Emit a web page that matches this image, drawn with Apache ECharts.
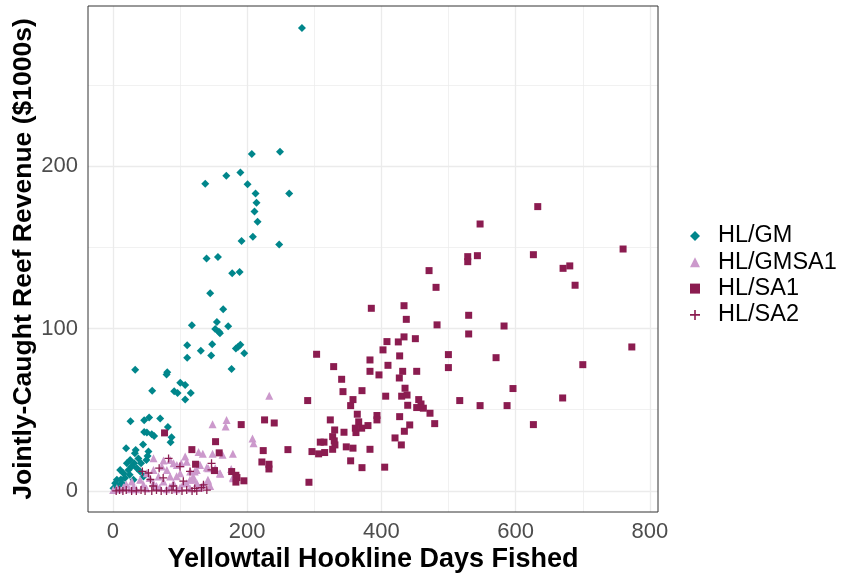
<!DOCTYPE html>
<html><head><meta charset="utf-8">
<script src="https://cdn.jsdelivr.net/npm/echarts@6/dist/echarts.min.js"></script>
<style>html,body{margin:0;padding:0;background:#fff}#c{width:854px;height:577px}</style>
</head><body><div id="c"></div>
<script>
const seriesNames = ['HL/GM', 'HL/GMSA1', 'HL/SA1', 'HL/SA2'];

const gmX = [281.7,207,249,190,169,137.6,200.7,212.6,262.7,214,211,215.6,208.6,191.7,247.8,139.6,156.5,177.8,188.8,145,164.4,117.7,155,171.8,152.5,158,159.5,110.7,131,148,183.3,186.7,190,195.7,146.5,110.7,176.8,33.3,81,80,58.6,100.4,107.8,91.4,96.4,116,107.8,26.3,46.7,54,70.5,82,46.7,50.7,58,61.5,87.5,86,45,19.8,34,32.8,53,51.7,50,25.8,31.8,20.9,10.9,15.9,23.3,35.8,40.7,6,3.5,1,13.4,45.7,30.8,28,38,18,8,25,42,12];
const gmY = [285,207.4,208.8,196,194,189,188.7,183,183,177.4,172,165.7,156.5,153.8,151.6,143,144,134,134.8,121.7,111.8,102,104,101.3,99.7,98,97,89.6,86.3,90.2,87.6,88.8,90,84.7,83.3,82,75,74.5,73,71.6,61.7,66.5,65.2,61.3,60.3,60.3,56.2,42.9,43.5,45.1,44.5,39.4,36.3,35.9,34.9,33.8,33,30,28.5,26.2,25.2,23.2,24.2,21.5,19,19,17,17,12.9,10.9,12.9,14,11.9,6.8,4.7,1.6,4.7,8.8,6.8,15,20,8,3,10,17,7];

const gmsaX = [233,148.5,169.4,168,208,209.6,127.7,134,148.5,163.4,178.8,107.8,101.8,95.4,140,152.5,128.6,125,160,141.6,176.3,178.8,60.6,75.5,85.4,90.4,73,80.5,60.6,50.7,68,85.4,100.3,115.2,120.2,105.3,90.4,75.5,60.6,45.7,30.8,15.9,6,125.2,135.2,0.5,40.7,28.3,110,130,142,159.5,119.7,114.8,110,122,179.3,142,55,65,95,20,10,35,50,70,85,100,115,130,145,25,80,95];
const gmsaY = [58.5,41,43.7,39.6,32.2,29.3,24,22.8,22.8,22.2,22.8,21.1,17,16,14.4,14,16,12.9,10.5,6.8,13.5,8.2,20.1,18.7,19,17,15,12.9,12.9,10.9,8.8,8.8,10.9,11.9,6.8,4.7,4.7,5.7,4.7,3.7,2.6,2.3,1.6,4.7,3.7,0.6,6.8,5.7,18,16,14,10.9,8.8,6.8,4.7,11.9,7.8,5.7,8,3,9,4,1,1,1.5,2,2.5,2,1.5,2,3,1,1,1];

const sa1X = [191.2,226,240.4,153,117.7,158.4,224,260.8,222,232.5,232.5,123.2,151.4,183.3,184.8,183.3,195.2,77,177,471,481.4,385,433.7,437.1,482.9,408.3,425.2,433.7,450.6,402.4,499.8,499.8,303.5,383,427.2,409.8,328.9,383,396.4,431.7,426.7,452.6,340.8,342.8,371.1,406.4,435.2,430.2,438.2,357.7,354.2,439.2,455.6,459,452.6,462.5,472.4,479.4,290.2,393.4,393.4,364.1,323.9,366.2,361.2,370.6,380,362.1,427.2,442.2,434.2,420.3,429.7,344.3,330.4,327.4,329.8,330.8,327.4,309,314.5,347.7,357.7,383,354.2,371.1,404.9,296.6,306.5,315.5,292.1,632.9,547,528.6,528.6,543,626.4,760,670.6,680.6,688.5,530,530,582.7,570.8,773,700,596,516.7,547,587.2,670,626.4];
const sa1Y = [40.8,43.7,41.8,30.3,25.4,23.4,24.8,25.4,17.8,16.4,13.5,16.4,12.5,9.6,8.2,5.4,6.2,35.7,11.9,135.6,125.3,112.4,114,105.6,102.2,91.9,91.7,94.8,93.7,86.8,83.9,75.9,84.1,80.6,83.1,77.3,76.5,73.6,71.4,73.6,69.5,73.6,68.7,61.1,61.7,58.3,63.2,58.3,59,56.2,52.5,52.7,56.2,53.5,51.3,50.9,47.8,41.4,55.6,46.4,43.7,47.2,43.7,42.5,38.6,38.6,40.2,35.9,45.7,40.6,36.7,32.6,28.3,36.1,37.5,33.4,30.8,28.3,25.6,30,30,27.1,26.3,25.6,18.5,14.3,14.6,24.2,22.8,23.6,5.3,175,164.3,144.2,141.1,144.8,145.4,148.9,137,138.5,126.6,108.1,96.6,101.5,82,88.6,77.7,63,55.6,52.5,52.5,57.2,40.8];

const sa2X = [83,44,53,56,69,147,147,135,132,122,5,10,15,20,28,35,42,48,58,65,72,80,88,95,103,110,118,125,140,60,90,105,75,115,100];
const sa2Y = [20,12,11,7,14,17,13,3.7,2,1.5,0,0.5,0,0.5,0,0,0.5,0,0,0.5,0,0,0.5,0,0,0.5,0,0,0.5,3,3,6,8,12,15];

const xTickLabels = [0, 200, 400, 600, 800];
const xMinorLines = [100, 300, 500, 700];
const yTickLabels = [0, 100, 200];
const yMinorLines = [50, 150, 250];

const colors = ['#00868B', '#CC99CC', '#8B1C50', '#8B1C50'];
const plusPath = 'path://M4.2,0 L5.8,0 L5.8,4.2 L10,4.2 L10,5.8 L5.8,5.8 L5.8,10 L4.2,10 L4.2,5.8 L0,5.8 L0,4.2 L4.2,4.2 Z';
const symbols = ['diamond', 'triangle', 'rect', plusPath];
const sizes = [8, 8, 7, 8];

const zip = (xs, ys) => xs.map((x, i) => [x, ys[i]]);
const allData = [zip(gmX, gmY), zip(gmsaX, gmsaY), zip(sa1X, sa1Y), zip(sa2X, sa2Y)];

const gridLines = [];
xTickLabels.forEach(v => gridLines.push({xAxis: v, lineStyle: {width: 1.3}}));
xMinorLines.forEach(v => gridLines.push({xAxis: v, lineStyle: {width: 0.7}}));
yTickLabels.forEach(v => gridLines.push({yAxis: v, lineStyle: {width: 1.3}}));
yMinorLines.forEach(v => gridLines.push({yAxis: v, lineStyle: {width: 0.7}}));

const series = seriesNames.map((name, i) => ({
  name, type: 'scatter', data: allData[i], symbol: symbols[i], symbolSize: sizes[i],
  itemStyle: {color: colors[i], opacity: 1}, z: 3 + i, silent: true,
  emphasis: {disabled: true}
}));
series.unshift({
  name: '_grid', type: 'scatter', data: [], z: 1, silent: true,
  markLine: {silent: true, symbol: ['none', 'none'], label: {show: false}, z: 1,
    lineStyle: {color: '#EBEBEB', type: 'solid'}, animation: false, data: gridLines}
});

const chart = echarts.init(document.getElementById('c'), null, {renderer: 'canvas'});
chart.setOption({
  animation: false,
  backgroundColor: '#ffffff',
  textStyle: {fontFamily: 'Liberation Sans'},
  grid: {left: 88, right: 196, top: 6, bottom: 65, show: true, borderColor: '#333333', borderWidth: 1,
    backgroundColor: 'transparent', z: 10, containLabel: false, outerBoundsMode: 'none'},
  legend: {
    orient: 'vertical', left: 685, top: 219, itemWidth: 10, itemHeight: 10, itemGap: 2.3,
    data: seriesNames.map((n, i) => ({name: n, icon: symbols[i]})),
    textStyle: {fontSize: 23.5, color: '#000', padding: [0, 0, 0, 13], lineHeight: 23, fontFamily: 'Liberation Sans'},
    selectedMode: false
  },
  xAxis: {
    type: 'value', min: -37, max: 812,
    name: 'Yellowtail Hookline Days Fished', nameLocation: 'middle', nameGap: 34, nameMoveOverlap: false,
    nameTextStyle: {fontSize: 27, fontWeight: 'bold', color: '#000', fontFamily: 'Liberation Sans'},
    axisLine: {show: false},
    axisTick: {show: true, length: 5, lineStyle: {color: '#333333'}, customValues: xTickLabels},
    axisLabel: {fontSize: 22, color: '#4D4D4D', margin: 9, customValues: xTickLabels,
      formatter: v => xTickLabels.includes(v) ? String(v) : ''},
    splitLine: {show: false}
  },
  yAxis: {
    type: 'value', min: -13, max: 298.5,
    name: 'Jointly-Caught Reef Revenue ($1000s)', nameLocation: 'middle', nameGap: 51, nameMoveOverlap: false,
    nameTextStyle: {fontSize: 26.5, fontWeight: 'bold', color: '#000', fontFamily: 'Liberation Sans'},
    axisLine: {show: false},
    axisTick: {show: true, length: 5, lineStyle: {color: '#333333'}, customValues: yTickLabels},
    axisLabel: {fontSize: 22, color: '#4D4D4D', margin: 10, customValues: yTickLabels,
      formatter: v => yTickLabels.includes(v) ? String(v) : ''},
    splitLine: {show: false}
  },
  series
});
</script></body></html>
